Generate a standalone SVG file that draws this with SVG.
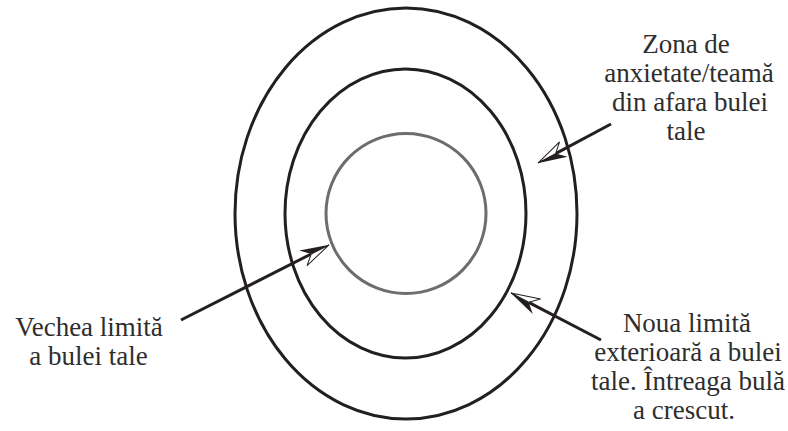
<svg xmlns="http://www.w3.org/2000/svg" width="788" height="431" viewBox="0 0 788 431">
<style>
.ring{fill:none;stroke:#231f20;stroke-width:3}
.inner{fill:none;stroke:#6d6d6d;stroke-width:3}
.arrow{fill:none;stroke:#231f20;stroke-width:3;marker-end:url(#ah)}
text{font-family:"Liberation Serif","DejaVu Serif",serif;font-size:27px;fill:#2e2e2e;text-anchor:middle}
</style>
<defs>
<marker id="ah" markerUnits="userSpaceOnUse" markerWidth="40" markerHeight="30" refX="-20" refY="0" orient="auto" overflow="visible">
<path d="M0,0 L-29,8.5 L-20,0 Z" fill="#fff" stroke="#231f20" stroke-width="1"/>
<path d="M0.5,0 L-20,0 L-29,-8.5 Z" fill="#231f20"/>
</marker>
</defs>
<rect width="788" height="431" fill="#fff"/>
<g id="outer-zone"><ellipse class="ring" cx="406" cy="213.5" rx="171" ry="205.5"/></g>
<g id="new-boundary"><ellipse class="ring" cx="405.5" cy="213.5" rx="120.5" ry="144.5"/></g>
<g id="old-boundary"><circle class="inner" cx="406" cy="213.5" r="80"/></g>
<g id="connectors">
<path class="arrow" d="M611,124 L555.6,153.6"/>
<path class="arrow" d="M181,320 L311.2,254"/>
<path class="arrow" d="M601,340 L528.7,302.3"/>
</g>
<g id="label-zone">
<text x="686" y="53">Zona de</text>
<text x="689" y="82">anxietate/teamă</text>
<text x="690" y="111">din afara bulei</text>
<text x="686" y="140">tale</text>
</g>
<g id="label-old">
<text x="89" y="336">Vechea limită</text>
<text x="88.5" y="365">a bulei tale</text>
</g>
<g id="label-new">
<text x="687" y="332">Noua limită</text>
<text x="688" y="361">exterioară a bulei</text>
<text x="688" y="390">tale. Întreaga bulă</text>
<text x="684" y="419">a crescut.</text>
</g>
</svg>
